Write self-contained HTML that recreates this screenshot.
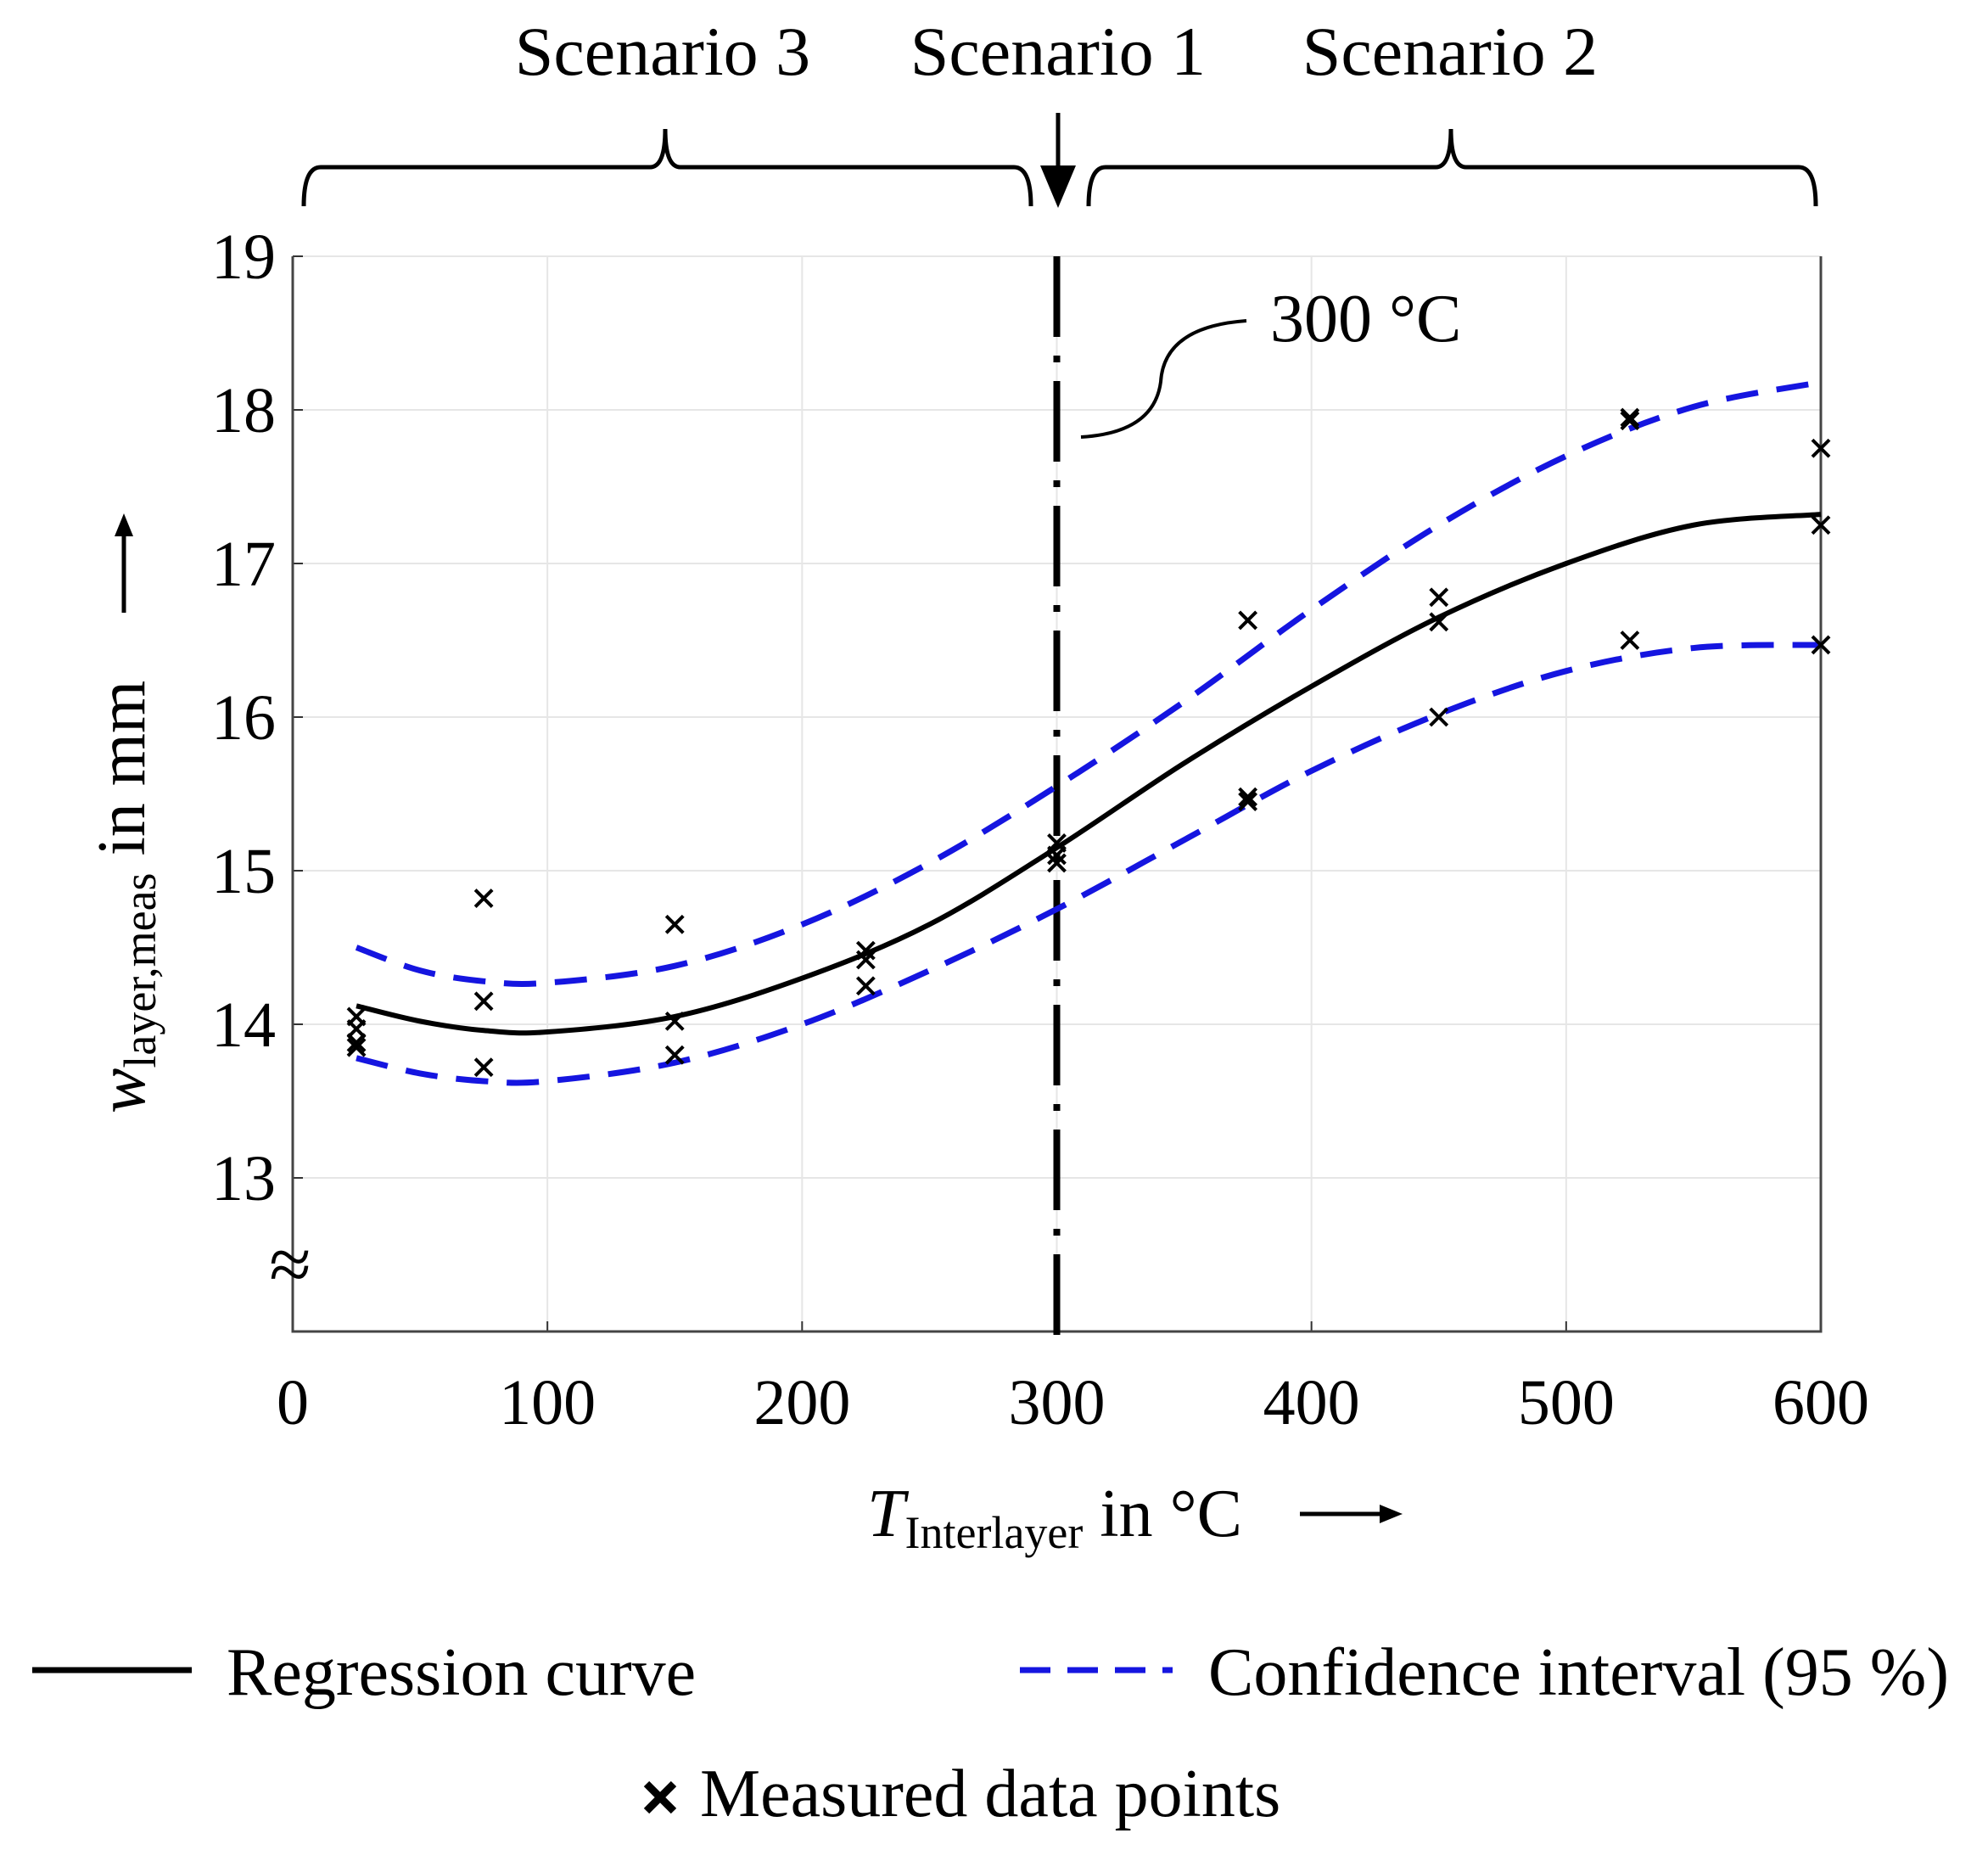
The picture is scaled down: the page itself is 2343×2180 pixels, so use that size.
<!DOCTYPE html>
<html><head><meta charset="utf-8"><style>
html,body{margin:0;padding:0;background:#fff;}
svg{display:block;font-family:"Liberation Serif",serif;}
</style></head><body>
<svg id="chart" width="2343" height="2180" viewBox="0 0 2343 2180" xmlns="http://www.w3.org/2000/svg">
<g id="grid"></g>
<g id="marks"></g>
<g id="ticks"></g>
<text x="781" y="88" font-size="82" text-anchor="middle">Scenario 3</text>
<text x="1247" y="88" font-size="82" text-anchor="middle">Scenario 1</text>
<text x="1709" y="88" font-size="82" text-anchor="middle">Scenario 2</text>
<path d="M358,243 Q358,197 378,197 L766,197 Q784,197 784,152 Q784,197 802,197 L1195,197 Q1215,197 1215,243" fill="none" stroke="#000" stroke-width="5"/>
<path d="M1283,243 Q1283,197 1303,197 L1692,197 Q1710,197 1710,152 Q1710,197 1728,197 L2120,197 Q2140,197 2140,243" fill="none" stroke="#000" stroke-width="5"/>
<line x1="1247" y1="133" x2="1247" y2="200" stroke="#000" stroke-width="5"/>
<polygon points="1226,195 1268,195 1247,245" fill="#000"/>
<path d="M1274,515 Q1360,510 1368,450 Q1372,385 1469,378" fill="none" stroke="#000" stroke-width="4"/>
<text x="1497" y="402" font-size="80">300 °C</text>
<text x="342" y="1520" font-size="90" text-anchor="middle">≈</text>
<g transform="translate(170,1312) rotate(-90)">
<text x="0" y="0" font-size="80"><tspan font-style="italic">w</tspan><tspan font-size="54" dy="13">layer,meas</tspan><tspan dy="-13"> in mm</tspan></text>
</g>
<line x1="146" y1="722" x2="146" y2="630" stroke="#000" stroke-width="5"/>
<polygon points="135,632 157,632 146,605" fill="#000"/>
<text x="1022" y="1810" font-size="80"><tspan font-style="italic">T</tspan><tspan font-size="54" dy="14">Interlayer</tspan><tspan dy="-14"> in °C</tspan></text>
<line x1="1532" y1="1784" x2="1628" y2="1784" stroke="#000" stroke-width="5"/>
<polygon points="1626,1773 1626,1795 1653,1784" fill="#000"/>
<g>
<line x1="38" y1="1968" x2="226" y2="1968" stroke="#000" stroke-width="7"/>
<text x="267" y="1997" font-size="80">Regression curve</text>
<line x1="1202" y1="1968" x2="1382" y2="1968" stroke="#1515e0" stroke-width="7" stroke-dasharray="36,20"/>
<text x="1424" y="1997" font-size="80">Confidence interval (95 %)</text>
<path d="M762,2102 L794,2134 M762,2134 L794,2102" stroke="#000" stroke-width="9"/>
<text x="825" y="2140" font-size="80">Measured data points</text>
</g>
</svg>
<script>
const xTicks=[0,100,200,300,400,500,600];
const yTicks=[13,14,15,16,17,18,19];
const ptX=[25,25,25,25,75,75,75,150,150,150,225,225,225,300,300,300,375,375,375,450,450,450,525,525,525,600,600,600];
const ptY=[14.05,13.97,13.88,13.85,14.82,14.15,13.72,14.65,14.02,13.8,14.48,14.42,14.25,15.18,15.1,15.05,16.63,15.48,15.45,16.78,16.62,16.0,17.95,17.93,16.5,17.75,17.25,16.47];
const curveX=[25,50,75,100,150,200,250,300,350,400,450,500,550,600];
const regY=[14.12,14.02,13.96,13.95,14.05,14.3,14.65,15.15,15.7,16.2,16.65,17.0,17.25,17.32];
const upY=[14.5,14.35,14.28,14.27,14.38,14.65,15.05,15.55,16.1,16.7,17.25,17.7,18.02,18.18];
const loY=[13.78,13.68,13.63,13.63,13.75,14.0,14.35,14.75,15.2,15.65,16.02,16.3,16.45,16.47];
const NS='http://www.w3.org/2000/svg';
const X0=345,X1=2146,Y0=1569,Y1=302;
const sx=v=>X0+(v-0)/600*(X1-X0);
const sy=v=>Y0-(v-12)/7*(Y0-Y1);
function mk(tag,attrs,parent){const e=document.createElementNS(NS,tag);for(const k in attrs)e.setAttribute(k,attrs[k]);parent.appendChild(e);return e;}
const grid=document.getElementById('grid'),marks=document.getElementById('marks'),ticks=document.getElementById('ticks');
xTicks.forEach(t=>{
 const l=mk('line',{x1:sx(t),x2:sx(t),y1:Y1,y2:Y0,stroke:'#e6e6e6','stroke-width':2},grid);
 
 
 mk('line',{x1:sx(t),x2:sx(t),y1:Y0,y2:Y0-12,stroke:'#333','stroke-width':2},grid);
 const tx=mk('text',{x:sx(t),y:1678,'font-size':76,'text-anchor':'middle'},ticks);tx.textContent=t;
 
 
});
yTicks.forEach(t=>{
 const l=mk('line',{x1:X0,x2:X1,y1:sy(t),y2:sy(t),stroke:'#e6e6e6','stroke-width':2},grid);
 
 
 mk('line',{x1:X0,x2:X0+12,y1:sy(t),y2:sy(t),stroke:'#333','stroke-width':2},grid);
 const tx=mk('text',{x:325,y:sy(t)+26,'font-size':76,'text-anchor':'end'},ticks);tx.textContent=t;
 
 
});
const ax=mk('path',{d:`M${X0},${Y1}L${X0},${Y0}L${X1},${Y0}L${X1},${Y1}`,fill:'none',stroke:'#444','stroke-width':3},grid);


function smooth(xs,ys){const p=xs.map((x,i)=>[sx(x),sy(ys[i])]);let d=`M${p[0][0]},${p[0][1]}`;
 for(let i=0;i<p.length-1;i++){const a=p[Math.max(i-1,0)],b=p[i],c=p[i+1],e=p[Math.min(i+2,p.length-1)];
 d+=`C${b[0]+(c[0]-a[0])/6},${b[1]+(c[1]-a[1])/6} ${c[0]-(e[0]-b[0])/6},${c[1]-(e[1]-b[1])/6} ${c[0]},${c[1]}`;}return d;}
const vl=mk('line',{x1:sx(300),x2:sx(300),y1:Y1,y2:Y0+10,stroke:'#000','stroke-width':8,'stroke-dasharray':'95,22,8,22'},marks);


const up=mk('path',{d:smooth(curveX,upY),fill:'none',stroke:'#1515e0','stroke-width':7,'stroke-dasharray':'38,22'},marks);


const lo=mk('path',{d:smooth(curveX,loY),fill:'none',stroke:'#1515e0','stroke-width':7,'stroke-dasharray':'38,22'},marks);


const rg=mk('path',{d:smooth(curveX,regY),fill:'none',stroke:'#000','stroke-width':6},marks);


ptX.forEach((x,i)=>{const cx=sx(x),cy=sy(ptY[i]),s=10;
 const g=mk('path',{d:`M${cx-s},${cy-s}L${cx+s},${cy+s}M${cx-s},${cy+s}L${cx+s},${cy-s}`,stroke:'#000','stroke-width':4},marks);
 
 
});
</script>
</body></html>
